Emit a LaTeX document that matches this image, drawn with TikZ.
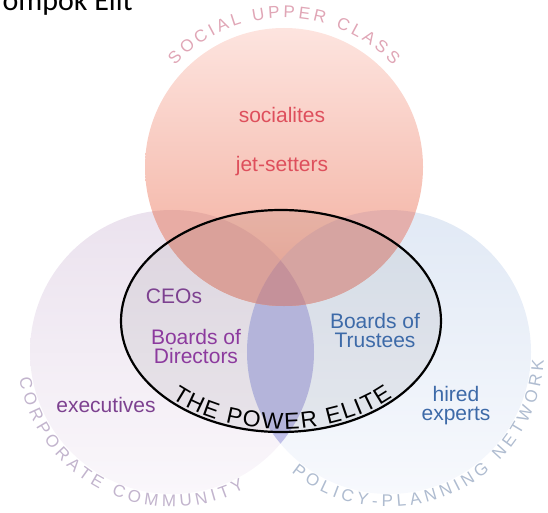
\documentclass[tikz,border=0pt]{standalone}
\usepackage{fontspec}
\setmainfont{Liberation Sans}
\newfontfamily\titlefont{Carlito}
\usetikzlibrary{decorations.text}

% circle fills
\definecolor{redTop}{HTML}{FDE4DF}
\definecolor{redBot}{HTML}{F2AA99}
\definecolor{purpTop}{HTML}{EBE2EE}
\definecolor{purpBot}{HTML}{FAF7FB}
\definecolor{blueTop}{HTML}{E1E9F5}
\definecolor{blueBot}{HTML}{F7F9FD}
% overlap fills
\definecolor{rpFill}{HTML}{E8ACA4}
\definecolor{rbFill}{HTML}{E4AFAC}
\definecolor{rpbFill}{HTML}{D29BA4}
\definecolor{pbFill}{HTML}{C0C0E8}
% text colours
\definecolor{redText}{HTML}{DE4F5C}
\definecolor{ceoText}{HTML}{7D4190}
\definecolor{dirText}{HTML}{8C3A9E}
\definecolor{blueText}{HTML}{3D6AA8}
\definecolor{socialArc}{HTML}{E0A6B6}
\definecolor{corpArc}{HTML}{C2B4CD}
\definecolor{policyArc}{HTML}{AFBCD0}

\tikzset{
  lbl/.style={inner sep=0pt, anchor=base, align=center,
    font=\fontsize{21}{19}\selectfont},
  arclabel/.style={decorate, decoration={text along path,
    text align={fit to path}, text={#1}}},
}

\begin{document}
\begin{tikzpicture}[x=1pt,y=1pt]
\useasboundingbox (0,0) rectangle (548,512);
\clip (0,0) rectangle (548,512);

% circle centres
\coordinate (R) at (284,345);
\coordinate (P) at (172,160);
\coordinate (B) at (389,160);
\coordinate (E) at (281,191);

% lower circles
\shade[top color=purpTop, bottom color=purpBot] (P) circle[radius=142];
\shade[top color=blueTop, bottom color=blueBot] (B) circle[radius=142];
\begin{scope}
  \clip (P) circle[radius=142];
  \fill[pbFill] (B) circle[radius=142];
\end{scope}

% upper circle and its overlaps
\shade[top color=redTop, bottom color=redBot] (R) circle[radius=139];
\begin{scope}
  \clip (R) circle[radius=139];
  \fill[rpFill] (P) circle[radius=142];
  \fill[rbFill] (B) circle[radius=142];
  \clip (P) circle[radius=142];
  \fill[rpbFill] (B) circle[radius=142];
\end{scope}

% the power elite ellipse
\fill[black, opacity=0.06] (E) ellipse[x radius=160, y radius=111];
\draw[line width=2.2pt] (E) ellipse[x radius=160, y radius=111];
\path[arclabel={|\fontsize{23}{23}\selectfont|THE POWER ELITE},
      decoration={raise=3pt}]
  (E) ++(226:160 and 111) arc[start angle=226, end angle=315, x radius=160, y radius=111];

% circle captions
\path[arclabel={|\fontsize{17}{17}\selectfont\color{socialArc}|SOCIAL UPPER CLASS}]
  (R) ++(137:149) arc[start angle=137, end angle=43, radius=149];
\path[arclabel={|\fontsize{17}{17}\selectfont\color{corpArc}|CORPORATE COMMUNITY}]
  (P) ++(190:155) arc[start angle=190, end angle=298, radius=155];
\path[arclabel={|\fontsize{17}{17}\selectfont\color{policyArc}|POLICY-PLANNING NETWORK}]
  (B) ++(231:155) arc[start angle=231, end angle=357, radius=155];

% member labels (multi-line labels sit on the baseline of their last line)
\node[lbl, text=redText] (socialites) at (282,389) {socialites};
\node[lbl, text=redText] (jetsetters) at (282,340) {jet-setters};
\node[lbl, text=ceoText] (ceos) at (174,209) {CEOs};
\node[lbl, text=dirText] (directors) at (196,149) {Boards of\\Directors};
\node[lbl, text=ceoText] (executives) at (106,100) {executives};
\node[lbl, text=blueText] (trustees) at (375,165) {Boards of\\Trustees};
\node[lbl, text=blueText] (experts) at (456,92) {hired\\experts};

% heading
\node[inner sep=0pt, anchor=base east, font=\titlefont\fontsize{30}{30}\selectfont]
  (heading) at (133,501) {ompok Elit};
\end{tikzpicture}
\end{document}
